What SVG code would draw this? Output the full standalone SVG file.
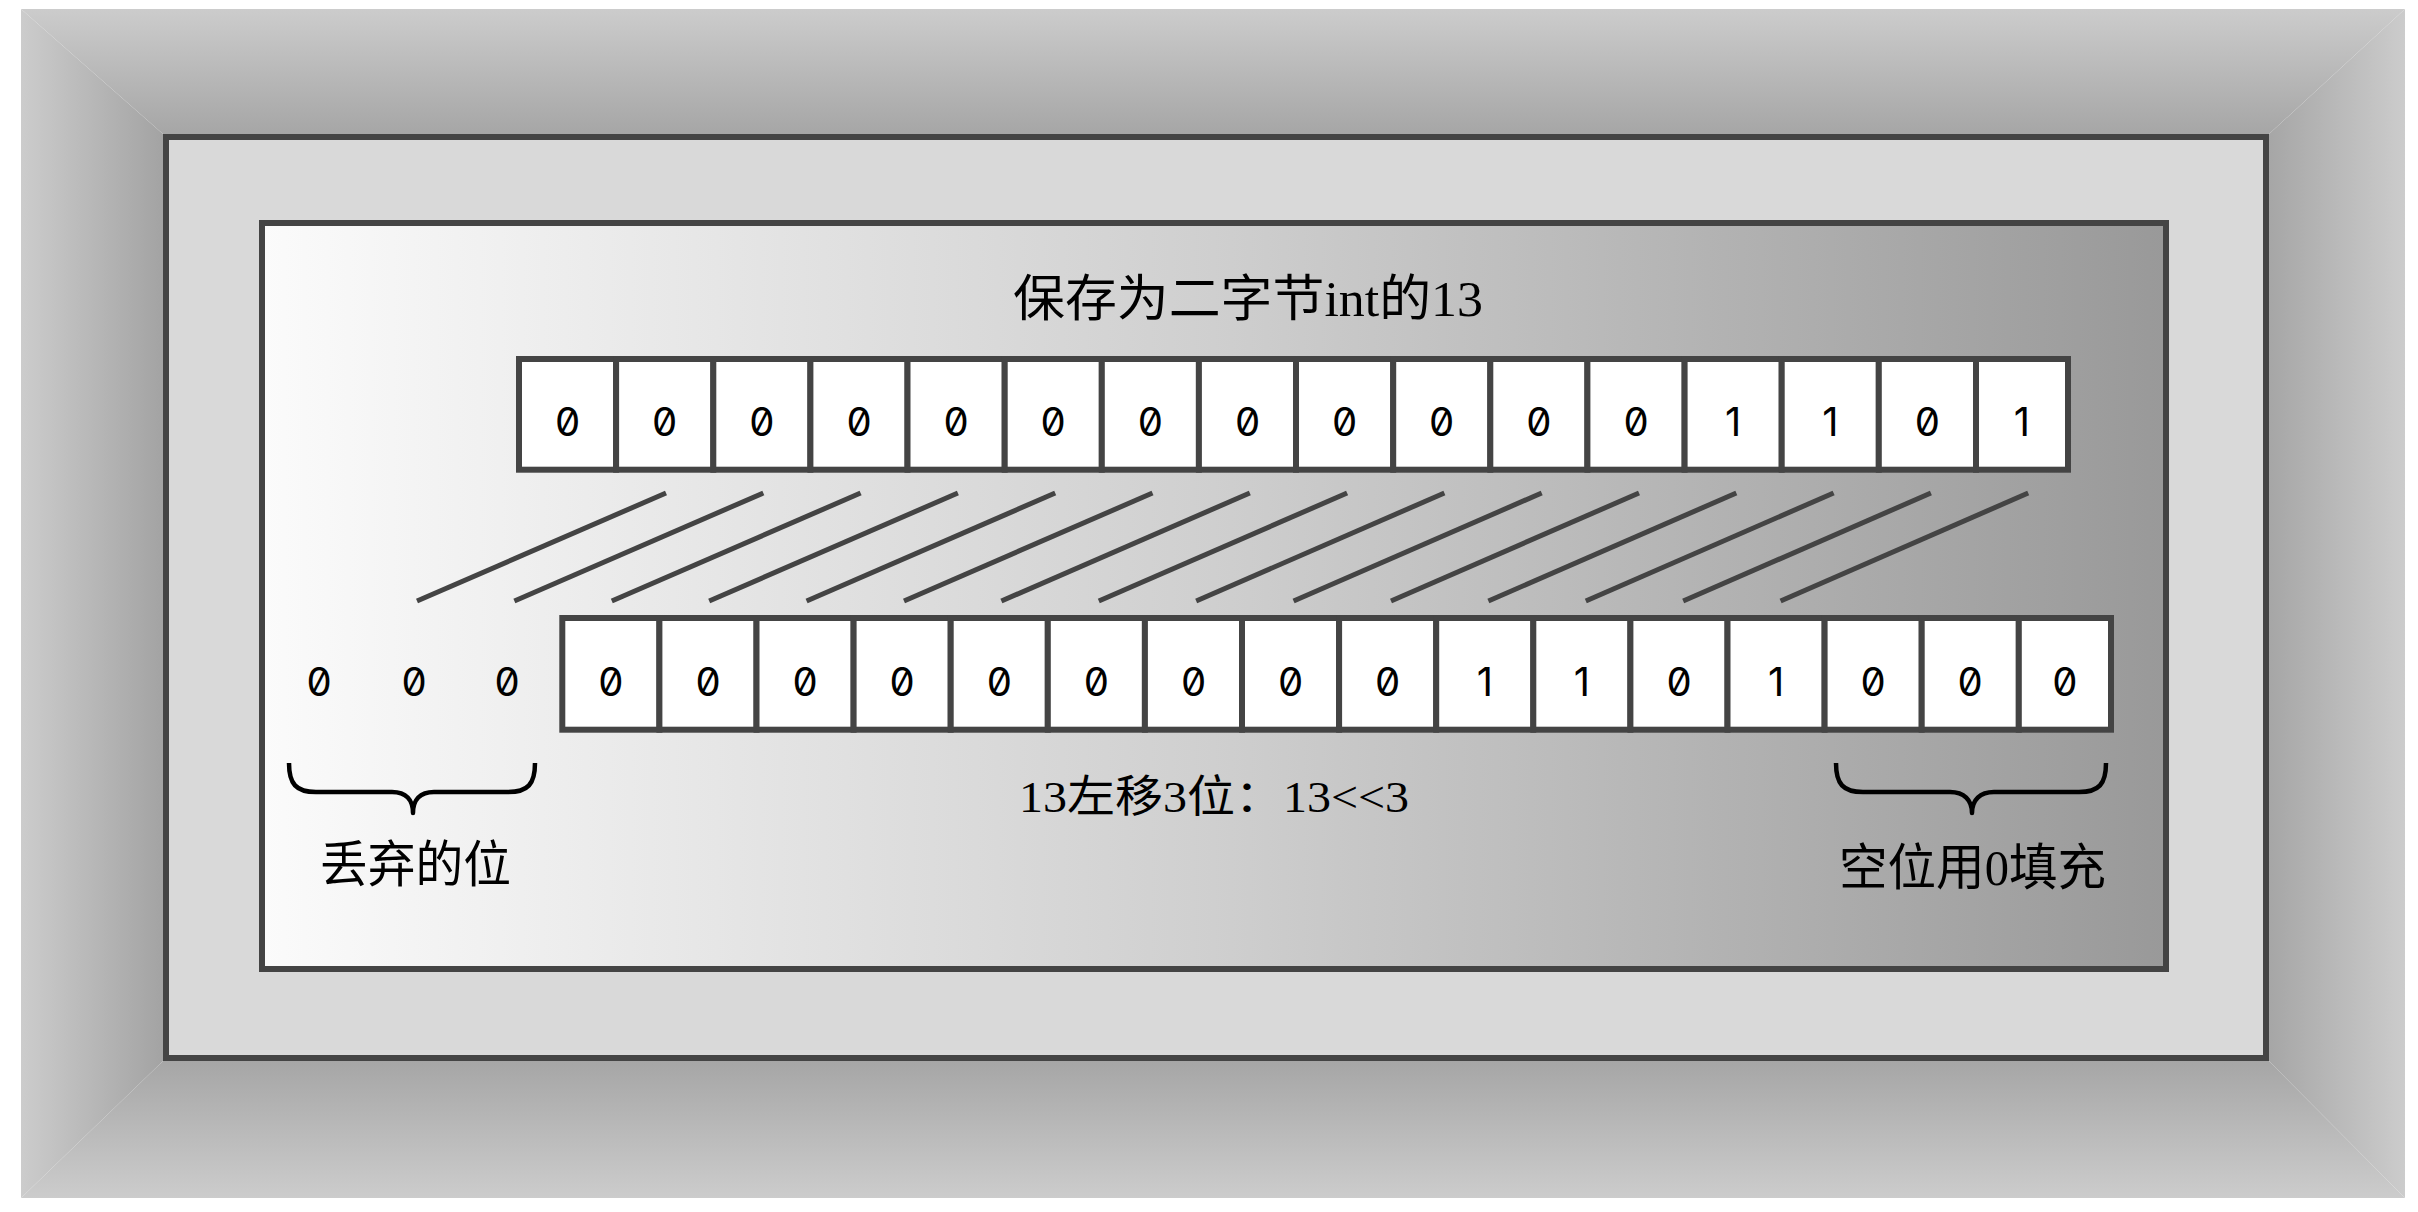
<svg xmlns="http://www.w3.org/2000/svg" width="2418" height="1212" viewBox="0 0 2418 1212">
<style>
.cell{fill:#ffffff;stroke:#444444;stroke-width:6}
.frame{stroke:#444444;stroke-width:6}
.bit{font-family:Inter,"DejaVu Sans",sans-serif;font-size:40px;font-feature-settings:"zero" 1;font-variant-numeric:slashed-zero;text-anchor:middle;fill:#000000}
.lbl{font-family:"Liberation Serif","Noto Sans CJK SC",serif;fill:#000000}
.conn{stroke:#444444;stroke-width:5;fill:none}
.brace{stroke:#000000;stroke-width:4.5;fill:none;stroke-linejoin:round}
</style>
<defs>
<linearGradient id="gTop" gradientUnits="userSpaceOnUse" x1="0" y1="9" x2="0" y2="134"><stop offset="0" stop-color="#cccccc"/><stop offset="1" stop-color="#a6a6a6"/></linearGradient>
<linearGradient id="gBot" gradientUnits="userSpaceOnUse" x1="0" y1="1198" x2="0" y2="1061"><stop offset="0" stop-color="#cccccc"/><stop offset="1" stop-color="#a6a6a6"/></linearGradient>
<linearGradient id="gLeft" gradientUnits="userSpaceOnUse" x1="21" y1="0" x2="163" y2="0"><stop offset="0" stop-color="#cccccc"/><stop offset="1" stop-color="#a3a3a3"/></linearGradient>
<linearGradient id="gRight" gradientUnits="userSpaceOnUse" x1="2405" y1="0" x2="2269" y2="0"><stop offset="0" stop-color="#cccccc"/><stop offset="1" stop-color="#a6a6a6"/></linearGradient>
<linearGradient id="gInner" gradientUnits="userSpaceOnUse" x1="262" y1="0" x2="2166" y2="0"><stop offset="0" stop-color="#fbfbfb"/><stop offset="0.5" stop-color="#cfcfcf"/><stop offset="1" stop-color="#999999"/></linearGradient>
</defs>

<g id="background">
<rect x="0" y="0" width="2418" height="1212" fill="#ffffff"/>
<polygon points="21,9 2405,9 2269,134 163,134" fill="url(#gTop)"/>
<polygon points="21,1198 2405,1198 2269,1061 163,1061" fill="url(#gBot)"/>
<polygon points="21,9 163,134 163,1061 21,1198" fill="url(#gLeft)"/>
<polygon points="2405,9 2269,134 2269,1061 2405,1198" fill="url(#gRight)"/>
<rect class="frame" x="166" y="137" width="2100" height="921" fill="#d9d9d9"/>
<rect class="frame" x="262" y="223" width="1904" height="746" fill="url(#gInner)"/>
</g>

<g id="title">
<text class="lbl" x="1013" y="316" font-size="50" textLength="470" lengthAdjust="spacingAndGlyphs">保存为二字节int的13</text>
</g>

<g id="top-row">
<rect class="cell" x="519" y="359" width="97.1" height="110.7"/>
<rect class="cell" x="616.1" y="359" width="97.2" height="110.7"/>
<rect class="cell" x="713.3" y="359" width="97.1" height="110.7"/>
<rect class="cell" x="810.4" y="359" width="97.1" height="110.7"/>
<rect class="cell" x="907.5" y="359" width="97.2" height="110.7"/>
<rect class="cell" x="1004.7" y="359" width="97.1" height="110.7"/>
<rect class="cell" x="1101.8" y="359" width="97.1" height="110.7"/>
<rect class="cell" x="1198.9" y="359" width="97.1" height="110.7"/>
<rect class="cell" x="1296" y="359" width="97.2" height="110.7"/>
<rect class="cell" x="1393.2" y="359" width="97.1" height="110.7"/>
<rect class="cell" x="1490.3" y="359" width="97.1" height="110.7"/>
<rect class="cell" x="1587.4" y="359" width="97.2" height="110.7"/>
<rect class="cell" x="1684.6" y="359" width="97.1" height="110.7"/>
<rect class="cell" x="1781.7" y="359" width="97.1" height="110.7"/>
<rect class="cell" x="1878.8" y="359" width="97.2" height="110.7"/>
<rect class="cell" x="1976" y="359" width="92" height="110.7"/>
<text class="bit" x="567.6" y="435.7">0</text>
<text class="bit" x="664.7" y="435.7">0</text>
<text class="bit" x="761.8" y="435.7">0</text>
<text class="bit" x="859" y="435.7">0</text>
<text class="bit" x="956.1" y="435.7">0</text>
<text class="bit" x="1053.2" y="435.7">0</text>
<text class="bit" x="1150.4" y="435.7">0</text>
<text class="bit" x="1247.5" y="435.7">0</text>
<text class="bit" x="1344.6" y="435.7">0</text>
<text class="bit" x="1441.7" y="435.7">0</text>
<text class="bit" x="1538.9" y="435.7">0</text>
<text class="bit" x="1636" y="435.7">0</text>
<text class="bit" x="1733.1" y="435.7">1</text>
<text class="bit" x="1830.3" y="435.7">1</text>
<text class="bit" x="1927.4" y="435.7">0</text>
<text class="bit" x="2022" y="435.7">1</text>
</g>

<g id="connectors">
<line class="conn" x1="666" y1="493" x2="417" y2="601"/>
<line class="conn" x1="763.3" y1="493" x2="514.4" y2="601"/>
<line class="conn" x1="860.6" y1="493" x2="611.8" y2="601"/>
<line class="conn" x1="957.9" y1="493" x2="709.2" y2="601"/>
<line class="conn" x1="1055.2" y1="493" x2="806.6" y2="601"/>
<line class="conn" x1="1152.5" y1="493" x2="904" y2="601"/>
<line class="conn" x1="1249.8" y1="493" x2="1001.4" y2="601"/>
<line class="conn" x1="1347.1" y1="493" x2="1098.8" y2="601"/>
<line class="conn" x1="1444.4" y1="493" x2="1196.2" y2="601"/>
<line class="conn" x1="1541.7" y1="493" x2="1293.6" y2="601"/>
<line class="conn" x1="1639" y1="493" x2="1391" y2="601"/>
<line class="conn" x1="1736.3" y1="493" x2="1488.4" y2="601"/>
<line class="conn" x1="1833.6" y1="493" x2="1585.8" y2="601"/>
<line class="conn" x1="1930.9" y1="493" x2="1683.2" y2="601"/>
<line class="conn" x1="2028.2" y1="493" x2="1780.6" y2="601"/>
</g>

<g id="discarded-bits">
<text class="bit" x="319" y="695.7">0</text>
<text class="bit" x="414" y="695.7">0</text>
<text class="bit" x="507" y="695.7">0</text>
</g>

<g id="bottom-row">
<rect class="cell" x="562.3" y="618" width="97.1" height="111.7"/>
<rect class="cell" x="659.4" y="618" width="97.1" height="111.7"/>
<rect class="cell" x="756.5" y="618" width="97.1" height="111.7"/>
<rect class="cell" x="853.6" y="618" width="97.1" height="111.7"/>
<rect class="cell" x="950.7" y="618" width="97.1" height="111.7"/>
<rect class="cell" x="1047.8" y="618" width="97.1" height="111.7"/>
<rect class="cell" x="1144.9" y="618" width="97.1" height="111.7"/>
<rect class="cell" x="1242" y="618" width="97.1" height="111.7"/>
<rect class="cell" x="1339.1" y="618" width="97.1" height="111.7"/>
<rect class="cell" x="1436.2" y="618" width="97.1" height="111.7"/>
<rect class="cell" x="1533.3" y="618" width="97.1" height="111.7"/>
<rect class="cell" x="1630.4" y="618" width="97.1" height="111.7"/>
<rect class="cell" x="1727.5" y="618" width="97.1" height="111.7"/>
<rect class="cell" x="1824.6" y="618" width="97.1" height="111.7"/>
<rect class="cell" x="1921.7" y="618" width="97.1" height="111.7"/>
<rect class="cell" x="2018.8" y="618" width="92.2" height="111.7"/>
<text class="bit" x="610.9" y="695.7">0</text>
<text class="bit" x="708" y="695.7">0</text>
<text class="bit" x="805.1" y="695.7">0</text>
<text class="bit" x="902.2" y="695.7">0</text>
<text class="bit" x="999.3" y="695.7">0</text>
<text class="bit" x="1096.4" y="695.7">0</text>
<text class="bit" x="1193.5" y="695.7">0</text>
<text class="bit" x="1290.6" y="695.7">0</text>
<text class="bit" x="1387.7" y="695.7">0</text>
<text class="bit" x="1484.8" y="695.7">1</text>
<text class="bit" x="1581.9" y="695.7">1</text>
<text class="bit" x="1679" y="695.7">0</text>
<text class="bit" x="1776.1" y="695.7">1</text>
<text class="bit" x="1873.2" y="695.7">0</text>
<text class="bit" x="1970.2" y="695.7">0</text>
<text class="bit" x="2064.9" y="695.7">0</text>
</g>

<g id="shift-label">
<text class="lbl" x="1019" y="812" font-size="44" textLength="390" lengthAdjust="spacingAndGlyphs">13左移3位：13&lt;&lt;3</text>
</g>

<g id="discard-brace">
<path class="brace" d="M289,763 C289,784 296,792 316,792 L392,792 C406,792 413,800 413,813 C413,800 420,792 434,792 L508,792 C528,792 535,784 535,763"/>
<text class="lbl" x="320" y="882" font-size="50" textLength="191" lengthAdjust="spacingAndGlyphs">丢弃的位</text>
</g>

<g id="fill-brace">
<path class="brace" d="M1836,763 C1836,784 1843,792 1863,792 L1950,792 C1964,792 1972,800 1972,813 C1972,800 1980,792 1994,792 L2079,792 C2099,792 2106,784 2106,763"/>
<text class="lbl" x="1839" y="885" font-size="50" textLength="267" lengthAdjust="spacingAndGlyphs">空位用0填充</text>
</g>
</svg>
